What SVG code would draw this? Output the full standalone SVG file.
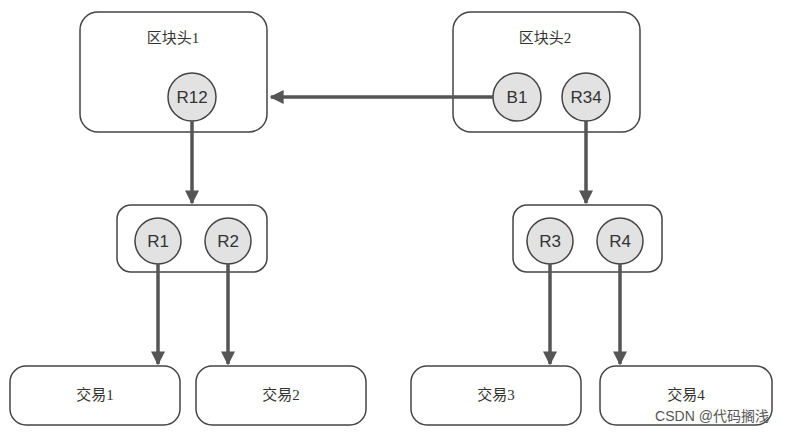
<svg xmlns="http://www.w3.org/2000/svg" width="798" height="435" viewBox="0 0 798 435">
<style>
.box{fill:#fff;stroke:#444;stroke-width:1.5}
.c{fill:#e2e2e2;stroke:#444;stroke-width:1.5}
.t{font-family:"Liberation Serif","Noto Sans CJK SC",serif;font-size:15px;fill:#333;text-anchor:middle}
.l{font-family:"Liberation Sans","Noto Sans CJK SC",sans-serif;font-size:17px;fill:#333;text-anchor:middle}
.a{stroke:#555;stroke-width:3.5;fill:none;marker-end:url(#ar)}
</style>
<defs><marker id="ar" viewBox="0 0 10 10" refX="9" refY="5" markerWidth="4" markerHeight="4" orient="auto"><path d="M0,0L10,5L0,10z" fill="#555"/></marker></defs>
<g id="h1"><rect class="box" x="80" y="12" width="187" height="120" rx="18"/><text class="t" x="173" y="43">区块头1</text></g>
<g id="h2"><rect class="box" x="453" y="12" width="187" height="120" rx="18"/><text class="t" x="545" y="43">区块头2</text></g>
<g id="m1"><rect class="box" x="117" y="205" width="150" height="67" rx="14"/></g>
<g id="m2"><rect class="box" x="513" y="205" width="149" height="67" rx="14"/></g>
<g id="R12"><circle class="c" cx="192" cy="97" r="24"/><text class="l" x="192" y="103">R12</text></g>
<g id="B1"><circle class="c" cx="517" cy="97" r="24"/><text class="l" x="517" y="103">B1</text></g>
<g id="R34"><circle class="c" cx="586" cy="97" r="24"/><text class="l" x="586" y="103">R34</text></g>
<g id="R1"><circle class="c" cx="158" cy="241" r="23"/><text class="l" x="158" y="247">R1</text></g>
<g id="R2"><circle class="c" cx="228" cy="241" r="23"/><text class="l" x="228" y="247">R2</text></g>
<g id="R3"><circle class="c" cx="550" cy="241" r="23"/><text class="l" x="550" y="247">R3</text></g>
<g id="R4"><circle class="c" cx="620" cy="241" r="23"/><text class="l" x="620" y="247">R4</text></g>
<g id="tx1"><rect class="box" x="10" y="366" width="170" height="59" rx="16"/><text class="t" x="95" y="400">交易1</text></g>
<g id="tx2"><rect class="box" x="196" y="366" width="170" height="59" rx="16"/><text class="t" x="281" y="400">交易2</text></g>
<g id="tx3"><rect class="box" x="411" y="366" width="170" height="59" rx="16"/><text class="t" x="496" y="400">交易3</text></g>
<g id="tx4"><rect class="box" x="600" y="366" width="172" height="59" rx="16"/><text class="t" x="686" y="400">交易4</text></g>
<g id="connectors">
<line class="a" x1="493" y1="97" x2="271" y2="97"/>
<line class="a" x1="192" y1="121" x2="192" y2="203"/>
<line class="a" x1="586" y1="121" x2="586" y2="203"/>
<line class="a" x1="158" y1="264" x2="158" y2="364"/>
<line class="a" x1="228" y1="264" x2="228" y2="364"/>
<line class="a" x1="550" y1="264" x2="550" y2="364"/>
<line class="a" x1="620" y1="264" x2="620" y2="364"/>
</g>
<text x="712" y="421" style="font-family:'Liberation Sans','Noto Sans CJK SC',sans-serif;font-size:14px;fill:#555;text-anchor:middle">CSDN @代码搁浅</text>
</svg>
